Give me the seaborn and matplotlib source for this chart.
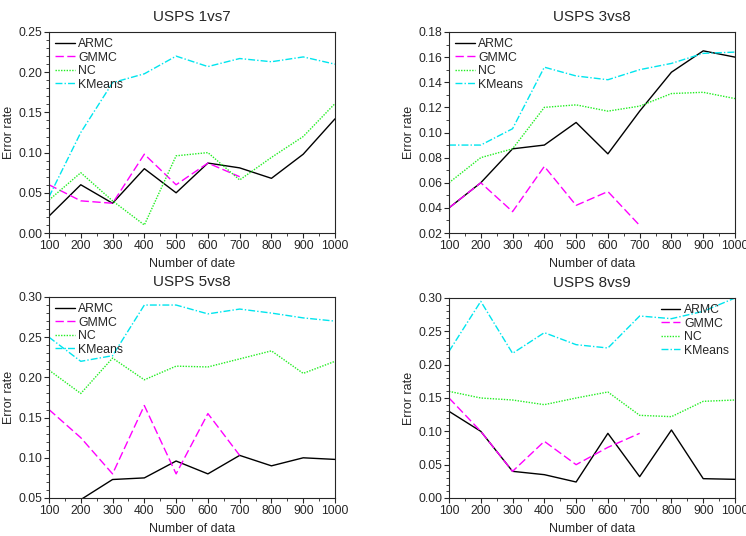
import seaborn as sns
import matplotlib.pyplot as plt
import numpy as np
import pandas as pd
from matplotlib.ticker import MultipleLocator

sizes = [100, 200, 300, 400, 500, 600, 700, 800, 900, 1000]
methods = ["ARMC", "GMMC", "NC", "KMeans"]

# USPS 1vs7
armc_17 = [0.021, 0.060, 0.037, 0.080, 0.050, 0.087, 0.081, 0.068, 0.098, 0.142]
gmmc_17 = [0.060, 0.040, 0.037, 0.098, 0.060, 0.087, 0.070]
nc_17 = [0.041, 0.075, 0.040, 0.010, 0.096, 0.100, 0.066, 0.094, 0.120, 0.161]
km_17 = [0.045, 0.125, 0.187, 0.198, 0.220, 0.207, 0.217, 0.213, 0.219, 0.210]

# USPS 3vs8
armc_38 = [0.040, 0.060, 0.087, 0.090, 0.108, 0.083, 0.117, 0.148, 0.165, 0.160]
gmmc_38 = [0.040, 0.060, 0.037, 0.073, 0.042, 0.053, 0.026]
nc_38 = [0.060, 0.080, 0.087, 0.120, 0.122, 0.117, 0.121, 0.131, 0.132, 0.127]
km_38 = [0.090, 0.090, 0.103, 0.152, 0.145, 0.142, 0.150, 0.155, 0.163, 0.164]

# USPS 5vs8
armc_58 = [0.030, 0.048, 0.073, 0.075, 0.096, 0.080, 0.103, 0.090, 0.100, 0.098]
gmmc_58 = [0.160, 0.125, 0.080, 0.165, 0.080, 0.155, 0.103]
nc_58 = [0.209, 0.180, 0.224, 0.197, 0.214, 0.213, 0.223, 0.233, 0.205, 0.220]
km_58 = [0.250, 0.220, 0.227, 0.290, 0.290, 0.279, 0.285, 0.280, 0.274, 0.270]

# USPS 8vs9
armc_89 = [0.130, 0.100, 0.040, 0.035, 0.024, 0.097, 0.032, 0.102, 0.029, 0.028]
gmmc_89 = [0.150, 0.100, 0.040, 0.085, 0.050, 0.076, 0.097]
nc_89 = [0.160, 0.150, 0.147, 0.140, 0.150, 0.159, 0.124, 0.122, 0.145, 0.147]
km_89 = [0.220, 0.295, 0.217, 0.248, 0.230, 0.225, 0.273, 0.269, 0.280, 0.300]

panels = [
    ("USPS 1vs7", "Number of date", [armc_17, gmmc_17, nc_17, km_17], (0, 0.25), 0.05, 0.01, "upper left"),
    ("USPS 3vs8", "Number of data", [armc_38, gmmc_38, nc_38, km_38], (0.02, 0.18), 0.02, 0.01, "upper left"),
    ("USPS 5vs8", "Number of data", [armc_58, gmmc_58, nc_58, km_58], (0.05, 0.30), 0.05, 0.01, "upper left"),
    ("USPS 8vs9", "Number of data", [armc_89, gmmc_89, nc_89, km_89], (0, 0.30), 0.05, 0.01, "upper right"),
]

colors = {"ARMC": "black", "GMMC": "#ff00ff", "NC": "#22ee22", "KMeans": "#00e5ee"}
dashes = {"ARMC": "", "GMMC": (6, 2.5), "NC": (1, 1), "KMeans": (5, 1.5, 1, 1.5)}

sns.set_style("ticks")
plt.rcParams["font.family"] = ["Liberation Sans", "DejaVu Sans"]

fig = plt.figure(figsize=(7.46, 5.36), dpi=100)
boxes = [(49, 32, 335, 233), (449, 32, 735, 233), (49, 297, 335, 498), (449, 298, 735, 498)]
W, H = 746, 536

for (title, xlab, series, ylim, major, minor, loc), (x0, y0, x1, y1) in zip(panels, boxes):
    ax = fig.add_axes([x0 / W, 1 - y1 / H, (x1 - x0) / W, (y1 - y0) / H])
    rows = []
    for m, vals in zip(methods, series):
        for s, v in zip(sizes, vals):
            rows.append({"size": s, "err": v, "method": m})
    df = pd.DataFrame(rows)
    sns.lineplot(data=df, x="size", y="err", hue="method", style="method",
                 palette=colors, dashes=dashes, hue_order=methods, style_order=methods,
                 linewidth=1.0, ax=ax)
    ax.set_xlim(100, 1000)
    ax.set_ylim(*ylim)
    ax.set_xticks(sizes)
    ax.xaxis.set_minor_locator(MultipleLocator(50))
    ax.yaxis.set_major_locator(MultipleLocator(major))
    ax.yaxis.set_minor_locator(MultipleLocator(minor))
    ax.yaxis.set_major_formatter(plt.FormatStrFormatter("%.2f"))
    ax.tick_params(which="major", length=3.5, width=0.8, labelsize=8.7, pad=1.2)
    ax.tick_params(which="minor", length=2, width=0.6)
    for sp in ax.spines.values():
        sp.set_visible(True)
        sp.set_linewidth(0.8)
    ax.set_title(title, fontsize=11, pad=8)
    ax.set_xlabel(xlab, fontsize=9, labelpad=4.5)
    ax.set_ylabel("Error rate", fontsize=9, labelpad=2.5)
    ax.legend(loc=loc, frameon=False, fontsize=8.8, handlelength=1.6,
              labelspacing=0.12, borderaxespad=0.1, handletextpad=0.3)

fig.savefig("out.png", dpi=100)
